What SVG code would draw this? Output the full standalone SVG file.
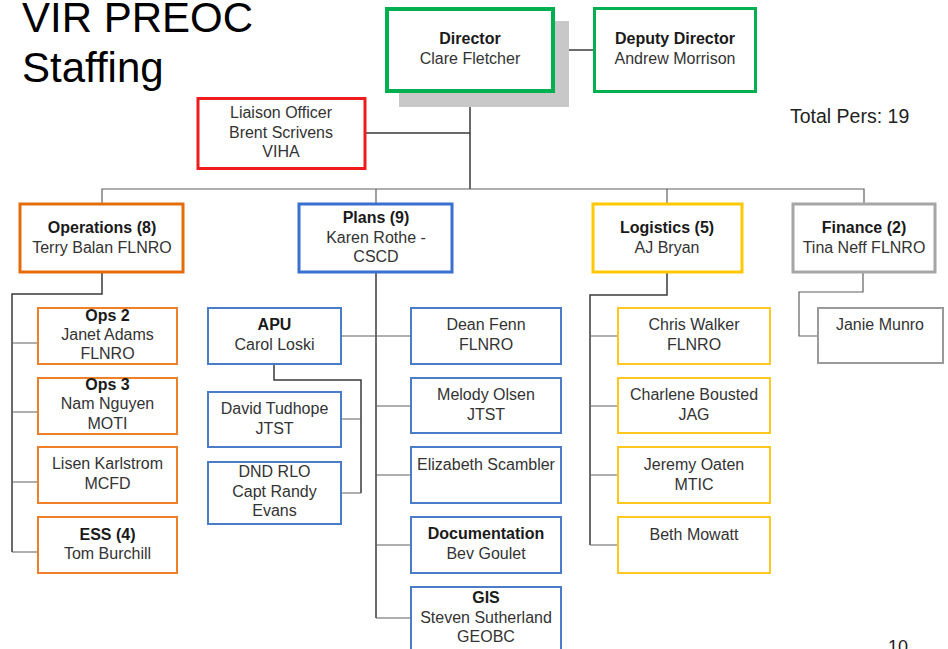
<svg xmlns="http://www.w3.org/2000/svg" width="948" height="649" viewBox="0 0 948 649">
<style>
text{font-family:"Liberation Sans",Arial,sans-serif;font-size:16px;fill:#333;text-anchor:middle}
.b{font-weight:bold;fill:#1a1a1a}
.title{font-size:42px;fill:#000;text-anchor:start}
.tot{font-size:19.5px;fill:#222;text-anchor:start}
rect{fill:#fff}
.green{stroke:#00b050}
.red{stroke:#ee1c1c;stroke-width:3}
.orT{stroke:#e46c0a;stroke-width:3}
.or{stroke:#f07f2a;stroke-width:2}
.blT{stroke:#3a70d0;stroke-width:3}
.bl{stroke:#4a7cc8;stroke-width:2}
.yeT{stroke:#ffc800;stroke-width:3}
.ye{stroke:#ffc820;stroke-width:2}
.grT{stroke:#a6a6a6;stroke-width:3}
.gr{stroke:#9a9a9a;stroke-width:2}
#connectors path{fill:none;stroke:#3a3a3a;stroke-width:1.5}
#connectors .lt{stroke:#606060;stroke-width:1.2}
</style>
<text class="title" x="22" y="32">VIR PREOC</text>
<text class="title" x="22" y="82">Staffing</text>
<text class="tot" x="790" y="123">Total Pers: 19</text>
<text class="tot" x="888" y="653" style="font-size:18px">10</text>

<g id="connectors">
<path d="M555 50H593"/>
<path d="M470 93V189"/>
<path d="M366 133H470"/>
<path class="lt" d="M102 203V189H864V203"/>
<path class="lt" d="M376 189V203"/>
<path class="lt" d="M667 189V203"/>
<path d="M102 273V294H12V552"/>
<path class="lt" d="M12 343H38M12 412H38M12 482H38M12 552H38"/>
<path d="M376 273V618"/>
<path class="lt" d="M341 336H411M376 406H411M376 475H411M376 545H411M376 618H411"/>
<path d="M274 364V380H361V493"/>
<path class="lt" d="M341 419H361M341 493H361"/>
<path d="M667 273V295H590V545"/>
<path class="lt" d="M590 336H618M590 406H618M590 475H618M590 545H618"/>
<path class="lt" d="M863 273V292H799V336H818"/>
</g>

<g id="director">
<rect x="399" y="21" width="170" height="86" style="fill:#c8c8c8"/>
<rect class="green" x="387" y="9" width="166" height="82" style="stroke-width:4"/>
<text class="b" x="470" y="44">Director</text>
<text x="470" y="64">Clare Fletcher</text>
</g>
<g id="deputy">
<rect class="green" x="594.5" y="8.5" width="161" height="83" style="stroke-width:3"/>
<text class="b" x="675" y="44">Deputy Director</text>
<text x="675" y="64">Andrew Morrison</text>
</g>
<g id="liaison">
<rect class="red" x="198" y="98.5" width="167" height="70"/>
<text x="281" y="118">Liaison Officer</text>
<text x="281" y="138">Brent Scrivens</text>
<text x="281" y="157">VIHA</text>
</g>

<g id="operations">
<rect class="orT" x="20" y="204" width="163" height="68"/>
<text class="b" x="102" y="233">Operations (8)</text>
<text x="102" y="253">Terry Balan FLNRO</text>
</g>
<g id="ops2">
<rect class="or" x="38" y="308" width="139" height="56"/>
<text class="b" x="107.5" y="321">Ops 2</text>
<text x="107.5" y="340">Janet Adams</text>
<text x="107.5" y="359">FLNRO</text>
</g>
<g id="ops3">
<rect class="or" x="38" y="378" width="139" height="56"/>
<text class="b" x="107.5" y="390">Ops 3</text>
<text x="107.5" y="409">Nam Nguyen</text>
<text x="107.5" y="429">MOTI</text>
</g>
<g id="lisen">
<rect class="or" x="38" y="447" width="139" height="56"/>
<text x="107.5" y="469">Lisen Karlstrom</text>
<text x="107.5" y="489">MCFD</text>
</g>
<g id="ess">
<rect class="or" x="38" y="517" width="139" height="56"/>
<text class="b" x="107.5" y="540">ESS (4)</text>
<text x="107.5" y="559">Tom Burchill</text>
</g>

<g id="plans">
<rect class="blT" x="299" y="204" width="153" height="68"/>
<text class="b" x="376" y="223">Plans (9)</text>
<text x="376" y="243">Karen Rothe -</text>
<text x="376" y="262">CSCD</text>
</g>
<g id="apu">
<rect class="bl" x="208" y="308" width="133" height="56"/>
<text class="b" x="274.5" y="330">APU</text>
<text x="274.5" y="350">Carol Loski</text>
</g>
<g id="david">
<rect class="bl" x="208" y="392" width="133" height="55"/>
<text x="274.5" y="414">David Tudhope</text>
<text x="274.5" y="434">JTST</text>
</g>
<g id="dnd">
<rect class="bl" x="208" y="462" width="133" height="62"/>
<text x="274.5" y="477">DND RLO</text>
<text x="274.5" y="497">Capt Randy</text>
<text x="274.5" y="516">Evans</text>
</g>
<g id="dean">
<rect class="bl" x="411" y="308" width="150" height="56"/>
<text x="486" y="330">Dean Fenn</text>
<text x="486" y="350">FLNRO</text>
</g>
<g id="melody">
<rect class="bl" x="411" y="378" width="150" height="55"/>
<text x="486" y="400">Melody Olsen</text>
<text x="486" y="420">JTST</text>
</g>
<g id="elizabeth">
<rect class="bl" x="411" y="447" width="150" height="56"/>
<text x="486" y="470">Elizabeth Scambler</text>
</g>
<g id="documentation">
<rect class="bl" x="411" y="517" width="150" height="56"/>
<text class="b" x="486" y="539">Documentation</text>
<text x="486" y="559">Bev Goulet</text>
</g>
<g id="gis">
<rect class="bl" x="411" y="587" width="150" height="70"/>
<text class="b" x="486" y="603">GIS</text>
<text x="486" y="623">Steven Sutherland</text>
<text x="486" y="642">GEOBC</text>
</g>

<g id="logistics">
<rect class="yeT" x="593" y="204" width="149" height="68"/>
<text class="b" x="667" y="233">Logistics (5)</text>
<text x="667" y="253">AJ Bryan</text>
</g>
<g id="chris">
<rect class="ye" x="618" y="308" width="152" height="56"/>
<text x="694" y="330">Chris Walker</text>
<text x="694" y="350">FLNRO</text>
</g>
<g id="charlene">
<rect class="ye" x="618" y="378" width="152" height="55"/>
<text x="694" y="400">Charlene Bousted</text>
<text x="694" y="420">JAG</text>
</g>
<g id="jeremy">
<rect class="ye" x="618" y="447" width="152" height="56"/>
<text x="694" y="470">Jeremy Oaten</text>
<text x="694" y="490">MTIC</text>
</g>
<g id="beth">
<rect class="ye" x="618" y="517" width="152" height="56"/>
<text x="694" y="540">Beth Mowatt</text>
</g>

<g id="finance">
<rect class="grT" x="793" y="204" width="142" height="68"/>
<text class="b" x="864" y="233">Finance (2)</text>
<text x="864" y="253">Tina Neff FLNRO</text>
</g>
<g id="janie">
<rect class="gr" x="818" y="308" width="125" height="55"/>
<text x="880" y="330">Janie Munro</text>
</g>
</svg>
